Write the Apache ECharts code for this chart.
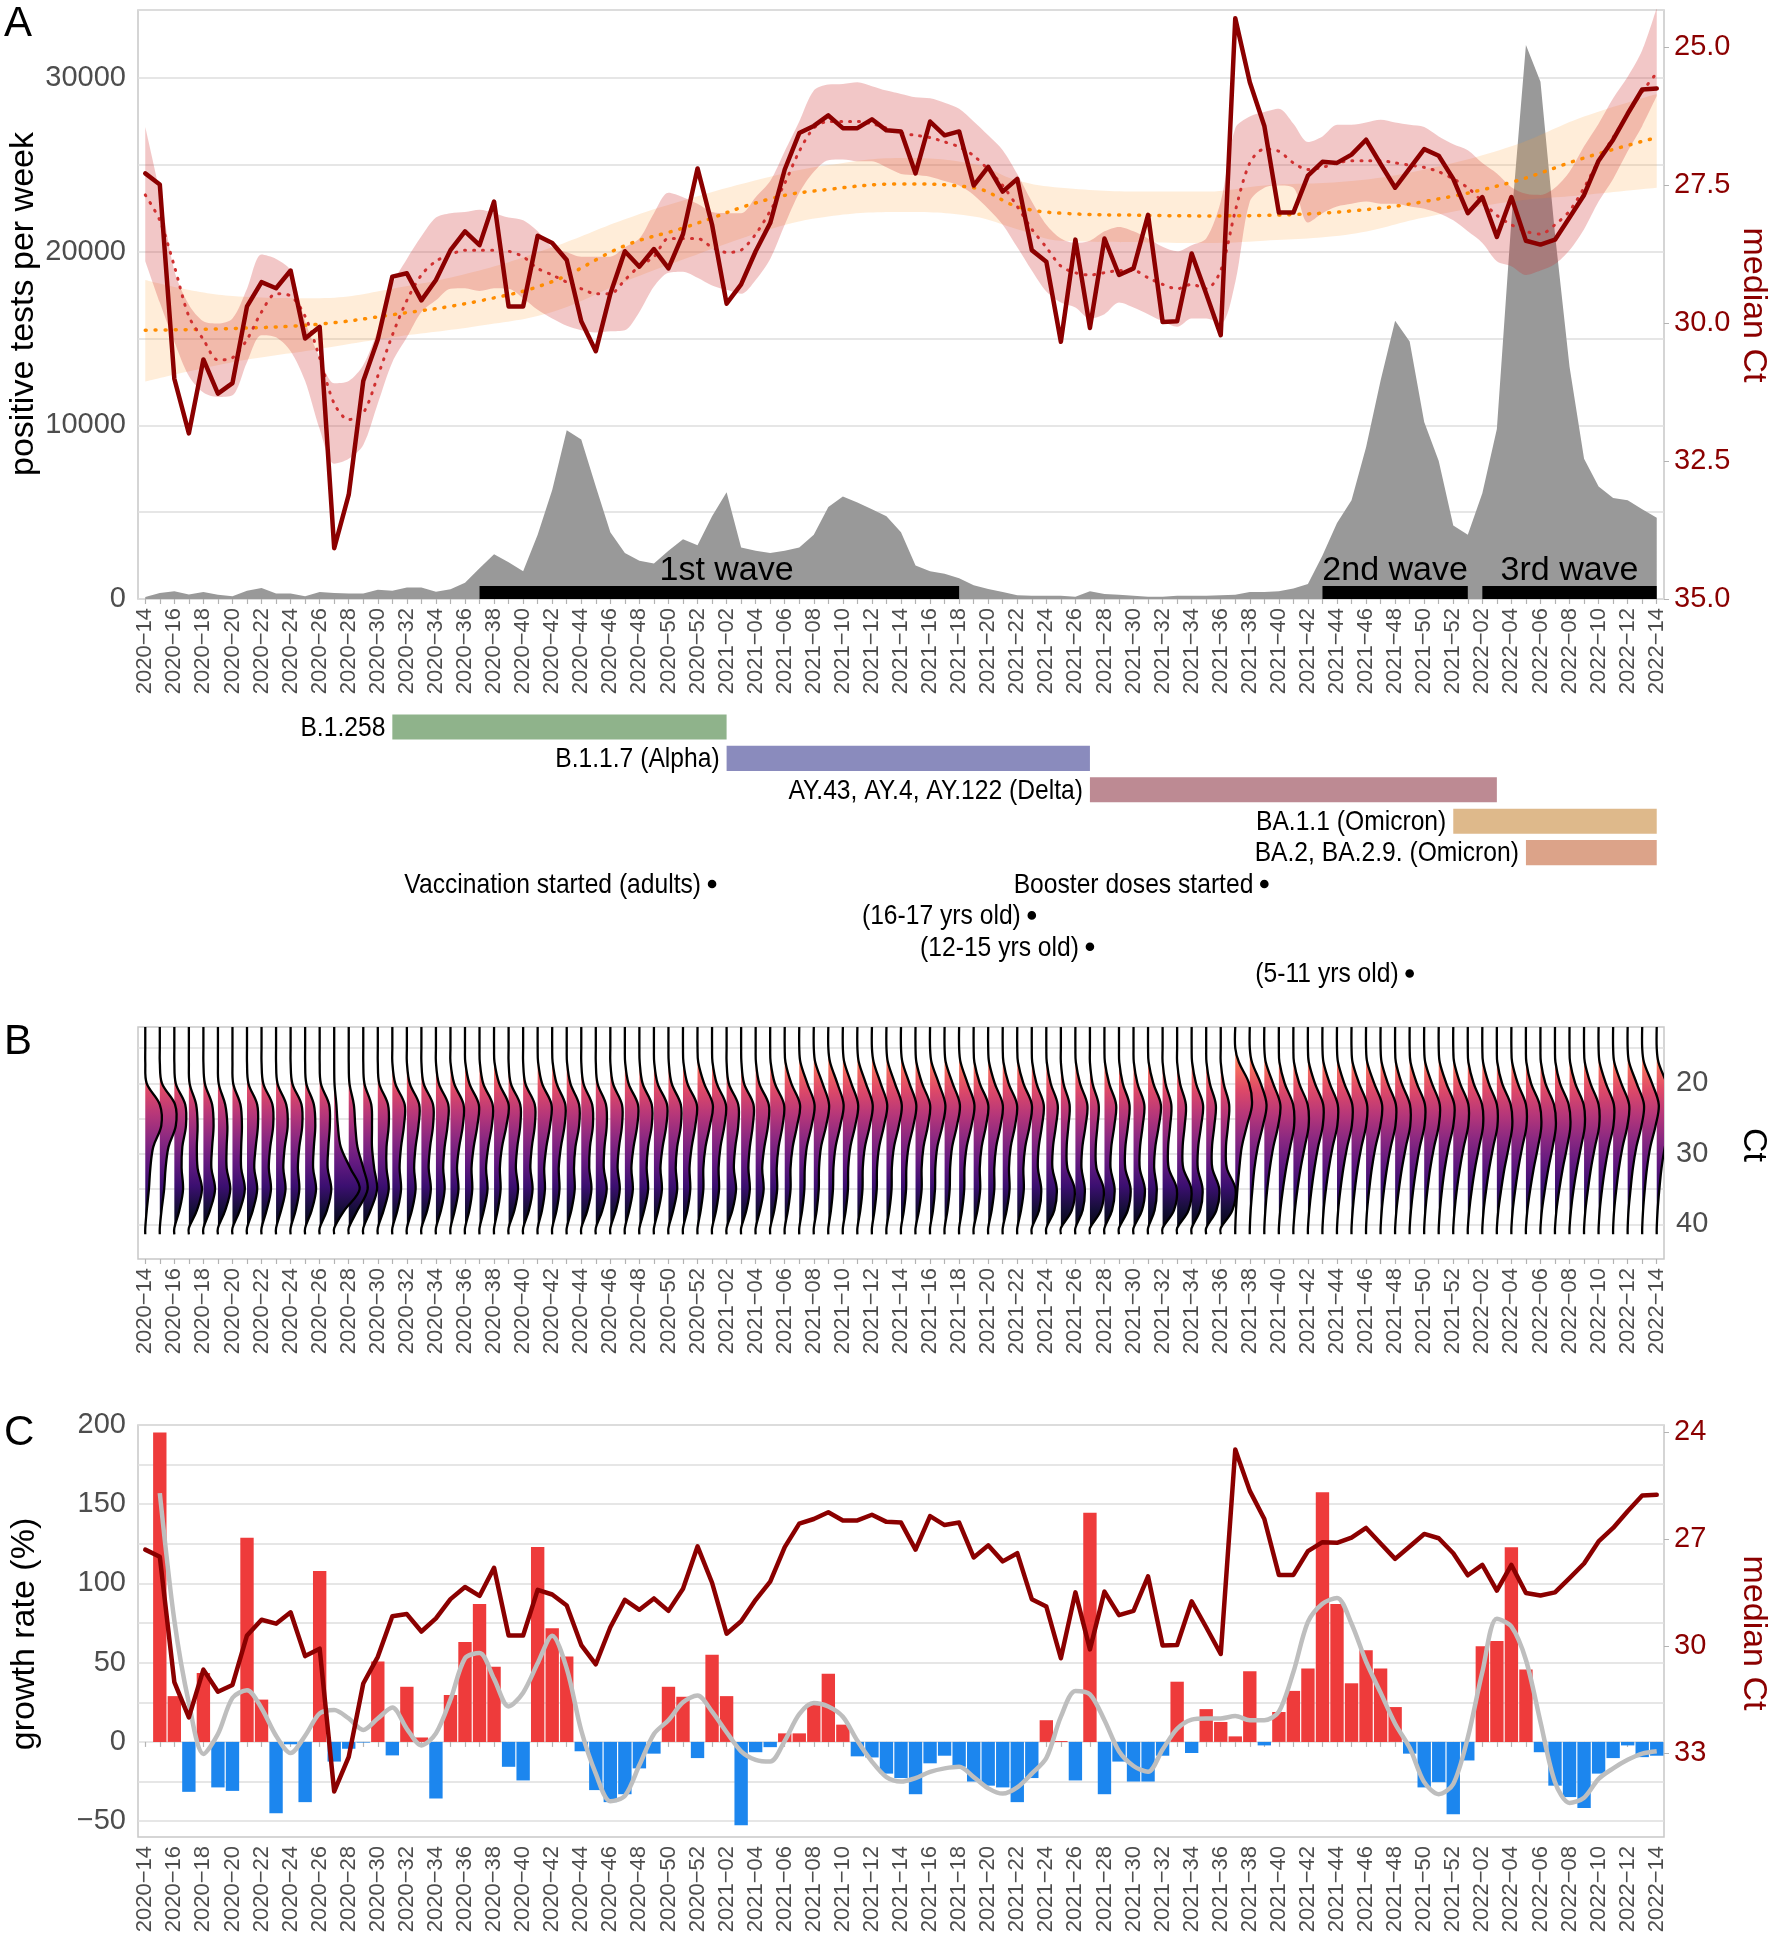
<!DOCTYPE html>
<html><head><meta charset="utf-8">
<script src="https://cdn.jsdelivr.net/npm/echarts@6/dist/echarts.min.js"></script>
<style>html,body{margin:0;padding:0;background:#fff}#c{width:1769px;height:1940px}</style>
</head><body><div id="c"></div>
<script>
const weeks = ["2020-14","2020-15","2020-16","2020-17","2020-18","2020-19","2020-20","2020-21","2020-22","2020-23","2020-24","2020-25","2020-26","2020-27","2020-28","2020-29","2020-30","2020-31","2020-32","2020-33","2020-34","2020-35","2020-36","2020-37","2020-38","2020-39","2020-40","2020-41","2020-42","2020-43","2020-44","2020-45","2020-46","2020-47","2020-48","2020-49","2020-50","2020-51","2020-52",
"2021-01","2021-02","2021-03","2021-04","2021-05","2021-06","2021-07","2021-08","2021-09","2021-10","2021-11","2021-12","2021-13","2021-14","2021-15","2021-16","2021-17","2021-18","2021-19","2021-20","2021-21","2021-22","2021-23","2021-24","2021-25","2021-26","2021-27","2021-28","2021-29","2021-30","2021-31","2021-32","2021-33","2021-34","2021-35","2021-36","2021-37","2021-38","2021-39","2021-40","2021-41","2021-42","2021-43","2021-44","2021-45","2021-46","2021-47","2021-48","2021-49","2021-50","2021-51","2021-52",
"2022-01","2022-02","2022-03","2022-04","2022-05","2022-06","2022-07","2022-08","2022-09","2022-10","2022-11","2022-12","2022-13","2022-14"];

// Panel A: positive tests per week (grey area)
const positiveTests = [120,350,450,265,400,240,160,480,640,320, 320,160,400,350,320,320,530,480,660,660,
 420,560,930,1770,2570,2120,1590,3700,6270,9710, 9180,6480,3840,2650,2200,2040,2780,3440,3100,4760,
 6140,2960,2780,2650,2780,2960,3700,5290,5900,5560, 5160,4760,3840,1930,1590,1460,1190,790,580,400,
 210,190,190,190,130,450,290,240,190,130, 130,190,190,190,210,240,400,400,450,610,
 870,2510,4370,5690,8730,12570,16010,14820,10190,7940, 4230,3700,6090,9790,21800,31890,29770,21000,13360,8070,
 6480,5820,5690,5160,4680];

// median Ct per week
const medianCt = [27.29,27.49,31.01,32.00,30.66,31.28,31.09,29.70,29.26,29.37, 29.05,30.28,30.07,34.08,33.11,31.05,30.30,29.16,29.10,29.59,
 29.22,28.68,28.34,28.59,27.80,29.70,29.70,28.42,28.55,28.86, 29.97,30.51,29.47,28.70,28.98,28.66,29.01,28.39,27.20,28.22,
 29.65,29.30,28.70,28.19,27.22,26.56,26.43,26.24,26.47,26.47, 26.31,26.51,26.53,27.29,26.35,26.60,26.53,27.51,27.17,27.62,
 27.39,28.68,28.89,30.34,28.49,30.09,28.47,29.13,29.01,28.04, 29.98,29.97,28.74,29.47,30.22,24.48,25.64,26.43,28.00,28.00,
 27.33,27.08,27.10,26.95,26.68,27.12,27.55,27.20,26.85,26.97, 27.39,28.01,27.72,28.44,27.72,28.51,28.58,28.49,28.09,27.68,
 27.06,26.68,26.21,25.77,25.75];

// smoothed median Ct with band (lower / upper Ct edge)
const ctBandLow = [26.45,27.64,29.05,29.67,29.97,30.01,29.92,29.38,28.76,28.84, 29.05,29.97,30.63,31.09,31.05,30.76,30.13,29.30,28.84,28.43,
 28.09,28.01,27.99,27.95,28.01,28.09,28.14,28.34,28.63,28.72, 28.80,28.80,28.80,28.63,28.47,28.01,27.64,27.72,27.84,27.99,
 28.01,28.01,27.72,27.43,26.89,26.35,25.79,25.68,25.67,25.64, 25.71,25.79,25.85,25.91,25.93,26.01,26.12,26.35,26.60,26.87,
 27.30,27.80,28.22,28.47,28.55,28.51,28.34,28.26,28.34,28.47, 28.62,28.70,28.59,28.47,27.80,26.47,26.26,26.18,26.12,26.39,
 26.72,26.62,26.41,26.41,26.37,26.32,26.37,26.41,26.45,26.62, 26.76,26.87,27.10,27.29,27.54,27.66,27.68,27.55,27.26,26.80,
 26.39,25.93,25.54,25.06,24.29];
const ctBandHigh = [28.88,29.63,30.34,30.96,31.26,31.34,31.31,30.71,30.22,30.26, 30.51,31.05,31.92,32.55,32.46,32.21,31.46,30.71,30.26,29.80,
 29.59,29.38,29.37,29.42,29.37,29.38,29.55,29.76,29.92,30.05, 30.13,30.17,30.15,30.13,29.80,29.34,29.09,29.07,29.18,29.32,
 29.40,29.47,29.22,28.84,28.22,27.64,27.26,27.05,27.04,27.07, 27.07,27.18,27.30,27.32,27.35,27.43,27.51,27.68,27.93,28.22,
 28.63,29.05,29.43,29.63,29.72,29.92,29.84,29.63,29.72,29.84, 29.97,30.07,29.92,29.92,30.01,29.26,27.80,27.55,27.51,27.55,
 28.18,28.01,27.89,27.84,27.80,27.84,27.84,27.89,27.93,28.01, 28.14,28.34,28.55,28.88,28.97,29.13,29.05,28.93,28.68,28.30,
 27.80,27.39,26.89,26.43,25.89];
const ctSmooth = [27.68,28.14,28.97,29.88,30.30,30.67,30.63,30.30,29.80,29.47, 29.51,29.88,30.63,31.46,31.75,31.63,30.96,30.22,29.59,29.13,
 28.88,28.76,28.68,28.68,28.68,28.70,28.80,29.01,29.13,29.26, 29.38,29.47,29.47,29.22,28.97,28.80,28.47,28.47,28.47,28.63,
 28.72,28.68,28.39,27.97,27.47,26.89,26.47,26.35,26.35,26.35, 26.39,26.47,26.56,26.60,26.64,26.72,26.81,26.97,27.22,27.51,
 27.89,28.30,28.63,28.97,29.09,29.13,29.09,29.05,29.05,29.18, 29.30,29.38,29.30,29.38,29.05,27.97,27.10,26.85,26.89,27.10,
 27.22,27.18,27.10,27.06,27.06,27.06,27.10,27.14,27.18,27.26, 27.39,27.55,27.80,28.05,28.22,28.34,28.39,28.22,27.97,27.55,
 27.06,26.64,26.22,25.81,25.47];

// long-term Ct trend (orange) read at these week indices
const trendIdx  = [0,6,12,17,23,28,33,37,43,47,52,57,60,63,69,73,77,83,88,94,99,104];
const trendLow  = [29.22,29.51,29.55,29.38,29.05,28.63,28.12,27.78,27.35,27.14,27.01,27.12,27.42,27.55,27.62,27.62,27.51,27.43,27.22,26.80,26.26,25.85];
const trendHigh = [31.06,30.71,30.47,30.26,30.05,29.80,29.25,28.85,28.30,28.07,27.99,28.07,28.30,28.51,28.54,28.55,28.51,28.39,28.09,27.80,27.68,27.55];
const trendMid  = [30.13,30.10,30.02,29.85,29.60,29.25,28.60,28.28,27.75,27.58,27.48,27.55,27.89,28.01,28.05,28.06,28.05,27.97,27.80,27.45,27.01,26.64];

// waves
const waveNames = ["1st wave","2nd wave","3rd wave"];
const waveStart = [23, 81, 92];
const waveEnd   = [56, 91, 104];
const waveLabelAt = [40, 86, 98];

// variants
const variantNames = ["B.1.258","B.1.1.7 (Alpha)","AY.43, AY.4, AY.122 (Delta)","BA.1.1 (Omicron)","BA.2, BA.2.9. (Omicron)"];
const variantStart = [17, 40, 65, 90, 95];
const variantEnd   = [40, 65, 93, 104, 104];
const variantColors = ["#8fb38b","#8a8bbd","#bd8a93","#deb98b","#dca389"];

// vaccination events
const vaccineNames = ["Vaccination started (adults)","Booster doses started","(16-17 yrs old)","(12-15 yrs old)","(5-11 yrs old)"];
const vaccineWeek  = [39, 77, 61, 65, 87];
const vaccineRow   = [5, 5, 6, 7, 7.85];

// Panel B: Ct density per week at these Ct values (width in week units)
const densityCt = [17,20,23,26,29,32,35,38];
const ctDensity = [
[0.0,0.1,1.0,1.1,0.55,0.35,0.25,0.1],[0.0,0.15,1.05,1.1,0.6,0.4,0.3,0.12],[0.0,0.1,0.75,0.8,0.55,0.5,0.6,0.35],[0.0,0.05,0.5,0.6,0.55,0.6,0.9,0.55],
[0.0,0.1,0.6,0.7,0.6,0.55,0.8,0.45],[0.0,0.05,0.5,0.65,0.6,0.6,0.85,0.5],[0.0,0.05,0.55,0.65,0.6,0.6,0.85,0.5],[0.0,0.1,0.7,0.75,0.6,0.5,0.7,0.4],
[0.0,0.12,0.75,0.8,0.6,0.5,0.65,0.35],[0.0,0.1,0.7,0.8,0.6,0.5,0.65,0.35],[0.0,0.12,0.75,0.8,0.6,0.5,0.6,0.35],[0.0,0.08,0.6,0.7,0.6,0.55,0.75,0.45],
[0.0,0.08,0.65,0.7,0.6,0.55,0.8,0.5],[0.0,0.02,0.15,0.25,0.45,1.1,1.75,0.7],[0.0,0.05,0.35,0.45,0.6,1.0,1.3,0.6],[0.0,0.08,0.55,0.6,0.6,0.75,0.95,0.5],
[0.0,0.1,0.7,0.75,0.6,0.6,0.75,0.4],[0.0,0.2,0.85,0.8,0.6,0.5,0.6,0.35],[0.0,0.2,0.85,0.8,0.6,0.5,0.6,0.35],[0.0,0.15,0.8,0.8,0.6,0.5,0.65,0.4],
[0.0,0.2,0.85,0.8,0.6,0.5,0.6,0.35],[0.0,0.25,0.9,0.85,0.6,0.45,0.55,0.3],[0.02,0.3,0.95,0.85,0.6,0.45,0.5,0.3],[0.02,0.25,0.9,0.85,0.6,0.45,0.55,0.3],
[0.03,0.35,1.0,0.85,0.55,0.4,0.45,0.25],[0.0,0.15,0.8,0.8,0.6,0.5,0.65,0.4],[0.0,0.15,0.8,0.8,0.6,0.5,0.65,0.4],[0.03,0.3,0.95,0.85,0.6,0.45,0.5,0.3],
[0.03,0.3,0.9,0.85,0.6,0.45,0.5,0.3],[0.02,0.25,0.85,0.85,0.6,0.5,0.55,0.32],[0.0,0.15,0.75,0.8,0.6,0.55,0.7,0.42],[0.0,0.12,0.7,0.75,0.6,0.55,0.75,0.45],
[0.0,0.18,0.8,0.8,0.6,0.5,0.65,0.38],[0.02,0.25,0.9,0.85,0.6,0.45,0.55,0.3],[0.02,0.22,0.85,0.85,0.6,0.5,0.6,0.33],[0.02,0.25,0.9,0.85,0.6,0.45,0.55,0.3],
[0.02,0.22,0.85,0.85,0.6,0.5,0.6,0.33],[0.03,0.3,0.95,0.85,0.6,0.45,0.5,0.3],[0.05,0.45,1.05,0.85,0.55,0.4,0.4,0.22],[0.03,0.32,0.95,0.85,0.58,0.45,0.48,0.28],
[0.0,0.15,0.8,0.8,0.6,0.5,0.65,0.4],[0.02,0.2,0.85,0.8,0.6,0.5,0.6,0.36],[0.02,0.25,0.9,0.85,0.6,0.45,0.55,0.3],[0.03,0.32,0.95,0.85,0.58,0.45,0.48,0.28],
[0.05,0.45,1.05,0.85,0.55,0.4,0.4,0.22],[0.08,0.55,1.05,0.85,0.52,0.38,0.35,0.2],[0.1,0.6,1.05,0.85,0.5,0.36,0.34,0.2],[0.12,0.62,1.05,0.82,0.5,0.35,0.32,0.18],
[0.1,0.58,1.05,0.85,0.52,0.37,0.35,0.2],[0.1,0.58,1.05,0.85,0.52,0.37,0.35,0.2],[0.12,0.6,1.05,0.83,0.5,0.35,0.33,0.18],[0.1,0.58,1.05,0.85,0.52,0.37,0.35,0.2],
[0.1,0.58,1.05,0.85,0.52,0.37,0.35,0.2],[0.06,0.45,1.0,0.85,0.55,0.42,0.42,0.24],[0.1,0.6,1.05,0.85,0.5,0.36,0.34,0.2],[0.08,0.55,1.05,0.85,0.52,0.38,0.35,0.2],
[0.1,0.58,1.05,0.85,0.52,0.37,0.35,0.2],[0.05,0.42,1.0,0.85,0.55,0.42,0.45,0.26],[0.06,0.45,1.0,0.85,0.55,0.42,0.42,0.24],[0.05,0.4,0.98,0.85,0.55,0.43,0.47,0.27],
[0.05,0.42,1.0,0.85,0.55,0.42,0.45,0.26],[0.03,0.32,0.82,0.7,0.48,0.42,0.65,0.5],[0.03,0.3,0.78,0.66,0.46,0.42,0.72,0.55],[0.0,0.18,0.6,0.52,0.4,0.45,0.95,0.75],
[0.03,0.32,0.82,0.7,0.48,0.42,0.65,0.5],[0.0,0.18,0.6,0.52,0.4,0.45,0.95,0.75],[0.03,0.32,0.8,0.68,0.47,0.42,0.7,0.52],[0.02,0.26,0.72,0.62,0.44,0.43,0.8,0.6],
[0.02,0.27,0.74,0.63,0.45,0.43,0.78,0.58],[0.04,0.36,0.88,0.74,0.5,0.42,0.6,0.45],[0.0,0.2,0.6,0.52,0.38,0.42,0.98,0.78],[0.0,0.2,0.6,0.52,0.38,0.42,0.98,0.78],
[0.03,0.3,0.78,0.65,0.45,0.42,0.75,0.58],[0.02,0.25,0.66,0.56,0.4,0.42,0.9,0.7],[0.0,0.2,0.58,0.5,0.36,0.42,1.02,0.8],[0.25,0.95,1.15,0.8,0.45,0.28,0.15,0.05],
[0.15,0.75,1.15,0.9,0.55,0.32,0.18,0.06],[0.1,0.6,1.1,0.95,0.62,0.38,0.2,0.07],[0.04,0.4,0.98,1.05,0.78,0.5,0.28,0.1],[0.04,0.4,0.98,1.05,0.78,0.5,0.28,0.1],
[0.06,0.48,1.05,1.02,0.7,0.45,0.25,0.09],[0.07,0.5,1.05,1.02,0.7,0.44,0.24,0.08],[0.07,0.5,1.05,1.02,0.7,0.44,0.24,0.08],[0.07,0.52,1.07,1.0,0.68,0.42,0.23,0.08],
[0.08,0.56,1.1,0.98,0.65,0.4,0.22,0.07],[0.07,0.5,1.05,1.02,0.7,0.44,0.24,0.08],[0.05,0.45,1.02,1.04,0.74,0.47,0.26,0.09],[0.06,0.49,1.05,1.02,0.7,0.45,0.25,0.09],
[0.07,0.53,1.07,1.0,0.68,0.42,0.23,0.08],[0.07,0.52,1.07,1.0,0.68,0.42,0.23,0.08],[0.06,0.47,1.04,1.03,0.72,0.46,0.25,0.09],[0.04,0.4,0.98,1.05,0.78,0.5,0.28,0.1],
[0.05,0.44,1.0,1.04,0.75,0.48,0.27,0.09],[0.03,0.36,0.95,1.06,0.82,0.53,0.3,0.1],[0.05,0.44,1.0,1.04,0.75,0.48,0.27,0.09],[0.03,0.35,0.94,1.06,0.83,0.54,0.3,0.1],
[0.03,0.34,0.93,1.06,0.84,0.55,0.31,0.1],[0.03,0.35,0.94,1.06,0.83,0.54,0.3,0.1],[0.04,0.39,0.97,1.05,0.79,0.51,0.28,0.1],[0.05,0.44,1.0,1.04,0.75,0.48,0.27,0.09],
[0.07,0.5,1.05,1.02,0.7,0.44,0.24,0.08],[0.08,0.56,1.1,0.98,0.65,0.4,0.22,0.07],[0.1,0.62,1.12,0.95,0.6,0.36,0.2,0.06],[0.12,0.68,1.14,0.92,0.56,0.33,0.18,0.06],
[0.12,0.68,1.14,0.92,0.56,0.33,0.18,0.06]];

// Panel C: weekly growth rate (%) and its smoothed curve
const growthRate = [null,195.2,28.9,-31.5,43.5,-28.7,-30.9,128.9,26.7,-45.0, -1.5,-38.0,107.8,-12.4,-4.3,-0.4,50.7,-8.5,34.8,2.8,
 -35.7,29.6,63.0,87.0,47.4,-15.7,-24.3,123.0,71.7,53.9, -5.9,-30.4,-38.0,-33.0,-16.7,-7.4,34.8,28.5,-10.2,55.0,
 28.9,-52.6,-6.5,-3.3,5.4,5.4,24.6,43.0,10.9,-9.1, -9.8,-20.0,-22.8,-33.0,-13.5,-8.7,-15.7,-25.0,-27.6,-28.7,
 -38.0,-22.8,13.7,0.6,-24.3,144.6,-33.0,-12.4,-25.0,-25.0, -8.7,38.0,-7.0,20.7,12.6,3.5,44.6,-2.2,18.9,32.2,
 46.3,157.6,87.0,37.0,57.8,46.3,22.0,-7.4,-28.7,-25.4, -45.7,-11.7,60.4,63.7,122.8,45.7,-6.5,-27.6,-34.8,-41.7,
 -20.0,-10.2,-2.2,-9.6,-8.7];
const growthSmooth = [null,157,76.7,24.6,-7.6,5.0,27.8,32.6,21.3,3.9, -7.0,3.9,18.0,20.2,14.8,7.6,14.8,21.7,8.3,-2.2,
 5.4,26.7,52.8,56.1,39.8,22.4,31.1,49.6,67.0,46.3, 7.2,-20.0,-37.4,-34.1,-14.6,5.0,13.7,25.0,29.3,19.1,
 6.1,-5.9,-11.3,-12.4,0.7,17.6,24.6,22.4,15.9,0.7, -12.4,-22.2,-25.0,-22.8,-18.9,-16.7,-15.7,-22.2,-29.3,-32.6,
 -28.7,-20.0,-10.2,15.9,32.2,30.0,13.7,-5.9,-15.2,-18.9, -4.8,8.3,14.1,14.8,14.8,16.3,13.7,13.7,19.1,44.1,
 75.7,87.2,90.9,74.6,50.7,31.1,11.5,-3.7,-25.4,-33.0, -26.5,2.8,44.1,77.8,72.8,51.7,12.6,-25.4,-38.5,-35.2,
 -23.3,-16.7,-11.3,-7.4,-5.9];

// tick labels
const testsTicks = [0,10000,20000,30000];
const ctTicksA = [25,27.5,30,32.5,35];
const ctTicksB = [20,30,40];
const ctGridB = [15,20,25,30,35,40];
const growthTicks = [-50,0,50,100,150,200];
const growthGrid = [-50,-25,0,25,50,75,100,125,150,175,200];
const ctTicksC = [24,27,30,33];

const FONT = '"Liberation Sans", Arial, sans-serif';
const NARROW_SCALE = 0.88;
const DARKRED = '#8B0000';
const GRIDC = '#dedede';
const magma = [[0,'#fcfdbf'],[0.1,'#fecf92'],[0.2,'#fe9f6d'],[0.3,'#f7705c'],[0.4,'#de4968'],[0.5,'#b73779'],[0.6,'#8c2981'],[0.7,'#641a80'],[0.8,'#3b0f70'],[0.9,'#140e36'],[1,'#000004']];

function xAxisDef(gi, show) {
  return {type:'category', gridIndex:gi, data:weeks, boundaryGap:true, show:show,
    axisLine:{show:false},
    axisTick:{show:true, interval:0, alignWithLabel:true, length:5, lineStyle:{color:'#b3b3b3', width:1.2}},
    axisLabel:{interval:1, rotate:90, fontSize:22, fontFamily:FONT, color:'#4d4d4d', margin:9,
      formatter: s => s.replace('-', '\u2212')},
    splitLine:{show:false}};
}
function narrowText(txt, x, y) {
  return {type:'text', x:x, y:y, scaleX:NARROW_SCALE, scaleY:1,
    style:{text:txt, x:0, y:0, align:'right', verticalAlign:'middle', font:'28px ' + FONT, fill:'#000'}};
}
const gridBase = {left:138, right:105, show:true, borderColor:'#c8c8c8', borderWidth:1.5, containLabel:false, outerBoundsMode:'none'};

const chart = echarts.init(document.getElementById('c'), null, {renderer:'canvas'});
const option = {
  animation:false,
  backgroundColor:'#ffffff',
  textStyle:{fontFamily:FONT},
  grid:[
    Object.assign({}, gridBase, {top:10, height:589}),
    Object.assign({}, gridBase, {top:711.3, height:282.6, show:false}),
    Object.assign({}, gridBase, {top:1027, height:232}),
    Object.assign({}, gridBase, {top:1425, height:412})
  ],
  xAxis:[xAxisDef(0,true), xAxisDef(1,false), xAxisDef(2,true), xAxisDef(3,true)],
  yAxis:[
    {type:'value', gridIndex:0, position:'left', min:0, max:33900, interval:5000,
      axisLine:{show:false}, axisTick:{show:false},
      axisLabel:{formatter: v => testsTicks.indexOf(v) >= 0 ? String(v) : '', fontSize:29, color:'#4d4d4d', margin:12, fontFamily:FONT},
      splitLine:{lineStyle:{color:GRIDC, width:1.5}}},
    {type:'value', gridIndex:0, position:'right', min:24.33, max:35, inverse:true,
      axisLine:{show:false}, splitLine:{show:false},
      axisTick:{show:true, customValues:ctTicksA, length:5, lineStyle:{color:'#b3b3b3'}},
      axisLabel:{customValues:ctTicksA, formatter: v => Number(v).toFixed(1), fontSize:29, color:DARKRED, margin:10, fontFamily:FONT}},
    {type:'value', gridIndex:1, min:-0.5, max:8.5, inverse:true, show:false},
    {type:'value', gridIndex:2, position:'right', min:12, max:44.9, inverse:true,
      axisLine:{show:false},
      axisTick:{show:false, customValues:ctGridB},
      axisLabel:{customValues:ctTicksB, fontSize:29, color:'#4d4d4d', margin:12, fontFamily:FONT},
      splitLine:{show:true, lineStyle:{color:GRIDC, width:1.5}}},
    {type:'value', gridIndex:3, position:'left', min:-60, max:200,
      axisLine:{show:false},
      axisTick:{show:false, customValues:growthGrid},
      axisLabel:{customValues:growthTicks, formatter: v => v < 0 ? '\u2212' + Math.abs(v) : String(v), fontSize:29, color:'#4d4d4d', margin:12, fontFamily:FONT},
      splitLine:{show:true, lineStyle:{color:GRIDC, width:1.5}}},
    {type:'value', gridIndex:3, position:'right', min:23.79, max:35.36, inverse:true,
      axisLine:{show:false}, splitLine:{show:false},
      axisTick:{show:true, customValues:ctTicksC, length:5, lineStyle:{color:'#b3b3b3'}},
      axisLabel:{customValues:ctTicksC, fontSize:29, color:DARKRED, margin:10, fontFamily:FONT}}
  ],
  series:[
    // Panel A
    {type:'line', xAxisIndex:0, yAxisIndex:0, data:positiveTests, symbol:'none',
      lineStyle:{width:0}, areaStyle:{color:'#999999', opacity:1}},
    {type:'line', xAxisIndex:0, yAxisIndex:1, stack:'trend', smooth:0.4, symbol:'none',
      data: trendIdx.map((x,k) => [x, trendLow[k]]), lineStyle:{opacity:0}},
    {type:'line', xAxisIndex:0, yAxisIndex:1, stack:'trend', smooth:0.4, symbol:'none',
      data: trendIdx.map((x,k) => [x, trendHigh[k]-trendLow[k]]), lineStyle:{opacity:0},
      areaStyle:{color:'rgba(255,165,60,0.28)'}},
    {type:'line', xAxisIndex:0, yAxisIndex:1, smooth:0.4, symbol:'none',
      data: trendIdx.map((x,k) => [x, trendMid[k]]),
      lineStyle:{color:'#ff8c00', width:3.5, type:[1,9], cap:'round'}},
    {type:'line', xAxisIndex:0, yAxisIndex:1, stack:'band', smooth:0.3, symbol:'none',
      data: ctBandLow, lineStyle:{opacity:0}},
    {type:'line', xAxisIndex:0, yAxisIndex:1, stack:'band', smooth:0.3, symbol:'none',
      data: ctBandHigh.map((v,i) => +(v - ctBandLow[i]).toFixed(3)), lineStyle:{opacity:0},
      areaStyle:{color:'rgba(205,45,45,0.38)'}},
    {type:'line', xAxisIndex:0, yAxisIndex:1, smooth:0.3, symbol:'none', data: ctSmooth,
      lineStyle:{color:'#d03030', width:3, type:[1,8], cap:'round'}},
    {type:'line', xAxisIndex:0, yAxisIndex:1, symbol:'none', data: medianCt,
      lineStyle:{color:DARKRED, width:4.5, join:'round', cap:'round'}},
    {type:'custom', xAxisIndex:0, yAxisIndex:0, z:5,
      data: waveNames.map((n,k) => [waveStart[k], waveEnd[k], waveLabelAt[k]]),
      renderItem: (params, api) => {
        const a = api.coord([api.value(0), 0]);
        const b = api.coord([api.value(1), 0]);
        const c = api.coord([api.value(2), 0]);
        return {type:'group', children:[
          {type:'rect', shape:{x:a[0], y:a[1]-13, width:b[0]-a[0], height:13}, style:{fill:'#000'}},
          {type:'text', style:{text:waveNames[params.dataIndex], x:c[0], y:a[1]-11, align:'center', verticalAlign:'bottom',
            font:'34px ' + FONT, fill:'#000'}}
        ]};
      }},
    // variant bars
    {type:'custom', xAxisIndex:1, yAxisIndex:2,
      data: variantNames.map((n,k) => [variantStart[k], k, variantEnd[k]]),
      renderItem: (params, api) => {
        const k = params.dataIndex;
        const a = api.coord([api.value(0), api.value(1)]);
        const b = api.coord([api.value(2), api.value(1)]);
        const h = api.size([0, 0.8])[1];
        return {type:'group', children:[
          {type:'rect', shape:{x:a[0], y:a[1]-h/2, width:b[0]-a[0], height:h}, style:{fill:variantColors[k]}},
          narrowText(variantNames[k], a[0]-7, a[1]+1)
        ]};
      }},
    // vaccination events
    {type:'custom', xAxisIndex:1, yAxisIndex:2,
      data: vaccineWeek.map((x,k) => [x, vaccineRow[k]]),
      renderItem: (params, api) => {
        const p = api.coord([api.value(0), api.value(1)]);
        return {type:'group', children:[
          {type:'circle', shape:{cx:p[0], cy:p[1], r:4.3}, style:{fill:'#000'}},
          narrowText(vaccineNames[params.dataIndex], p[0]-11, p[1]+1)
        ]};
      }},
    // Panel B: densities
    {type:'custom', xAxisIndex:2, yAxisIndex:3,
      data: ctDensity.map((row,i) => [i].concat(row)),
      renderItem: (params, api) => {
        const i = api.value(0);
        const bw = api.size([1, 0])[0];
        const x0 = api.coord([i, 20])[0];
        const pts = [[x0, api.coord([i, 12])[1]], [x0, api.coord([i, 15])[1]]];
        densityCt.forEach((ct, k) => {
          const p = api.coord([i, ct]);
          pts.push([x0 + api.value(k + 1) * bw, p[1]]);
        });
        pts.push([x0, api.coord([i, 40.5])[1]]);
        pts.push([x0, api.coord([i, 41.4])[1]]);
        const g0 = api.coord([i, 7.3])[1], g1 = api.coord([i, 41.4])[1];
        const grad = new echarts.graphic.LinearGradient(0, g0, 0, g1, magma.map(s => ({offset:s[0], color:s[1]})), true);
        const cs = params.coordSys;
        const zz = 2 * (300 - i);
        return {type:'group', clipPath:{type:'rect', shape:{x:cs.x, y:cs.y, width:cs.width, height:cs.height}},
          children:[
            {type:'polygon', z2:zz, shape:{points:pts, smooth:0.35}, style:{fill:grad}},
            {type:'polyline', z2:zz+1, shape:{points:pts, smooth:0.35}, style:{stroke:'#000', lineWidth:2.3, fill:null}}
          ]};
      }},
    // Panel C
    {type:'bar', xAxisIndex:3, yAxisIndex:4, data:growthRate, barCategoryGap:'8%',
      itemStyle:{color: p => (p.value >= 0 ? '#EE3B3B' : '#1C86EE')}},
    {type:'line', xAxisIndex:3, yAxisIndex:4, data:growthSmooth, smooth:0.3, symbol:'none',
      lineStyle:{color:'#bebebe', width:4.5}},
    {type:'line', xAxisIndex:3, yAxisIndex:5, data:medianCt, symbol:'none',
      lineStyle:{color:DARKRED, width:4.5, join:'round', cap:'round'}}
  ],
  graphic:[
    {type:'text', x:4, y:3, style:{text:'A', font:'42px ' + FONT, fill:'#000'}},
    {type:'text', x:4, y:1021, style:{text:'B', font:'42px ' + FONT, fill:'#000'}},
    {type:'text', x:4, y:1412, style:{text:'C', font:'42px ' + FONT, fill:'#000'}},
    {type:'text', x:24, y:304, rotation:Math.PI/2, style:{text:'positive tests per week', font:'34px ' + FONT, fill:'#000', align:'center', verticalAlign:'middle'}},
    {type:'text', x:1753, y:305, rotation:-Math.PI/2, style:{text:'median Ct', font:'34px ' + FONT, fill:DARKRED, align:'center', verticalAlign:'middle'}},
    {type:'text', x:1753, y:1145, rotation:-Math.PI/2, style:{text:'Ct', font:'34px ' + FONT, fill:'#000', align:'center', verticalAlign:'middle'}},
    {type:'text', x:25, y:1634, rotation:Math.PI/2, style:{text:'growth rate (%)', font:'34px ' + FONT, fill:'#000', align:'center', verticalAlign:'middle'}},
    {type:'text', x:1753, y:1633, rotation:-Math.PI/2, style:{text:'median Ct', font:'34px ' + FONT, fill:DARKRED, align:'center', verticalAlign:'middle'}}
  ]
};
chart.setOption(option);
</script>
</body></html>
